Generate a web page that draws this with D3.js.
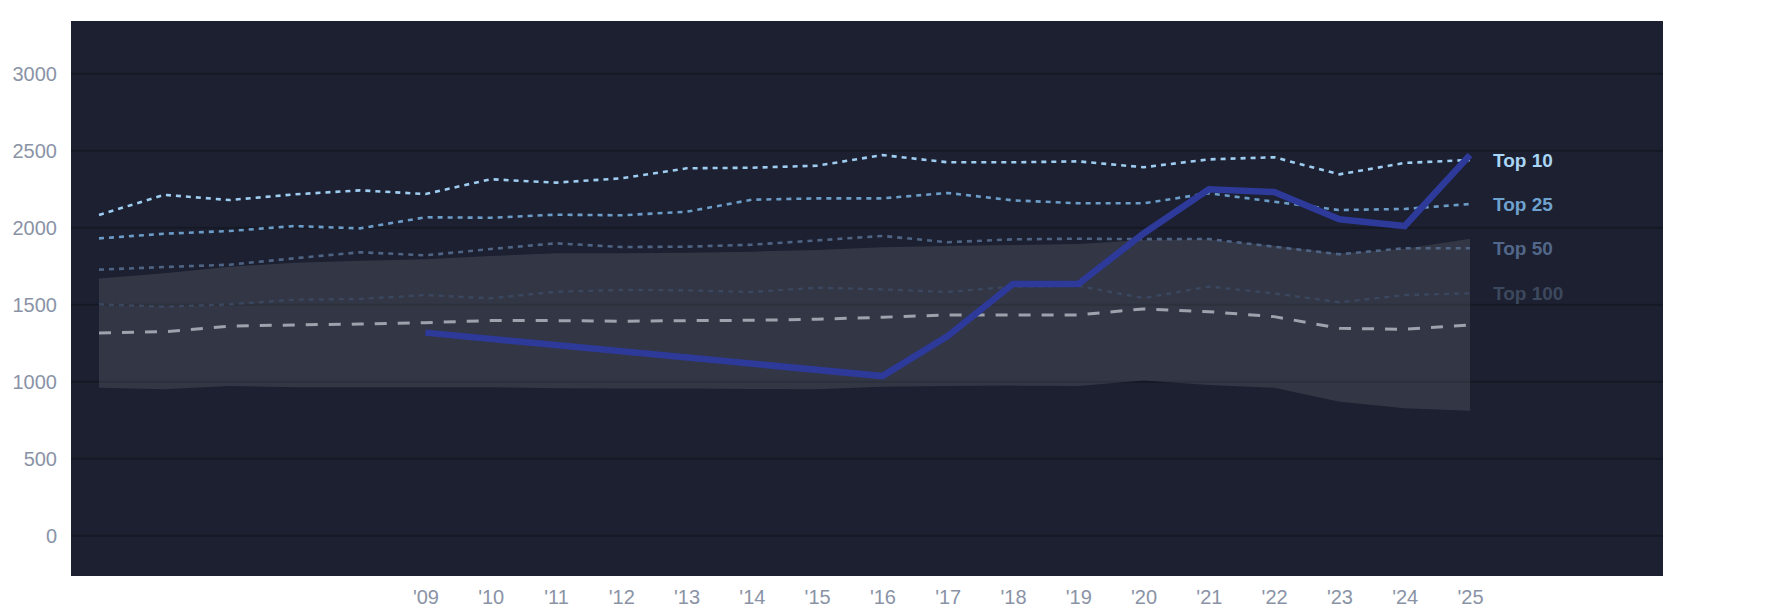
<!DOCTYPE html>
<html>
<head>
<meta charset="utf-8">
<script src="https://cdn.jsdelivr.net/npm/d3@7"></script>
<style>
  html, body { margin: 0; padding: 0; background: #ffffff; }
  svg { display: block; font-family: "Liberation Sans", Arial, Helvetica, sans-serif; }
</style>
</head>
<body>
<svg id="chart" width="1785" height="614"></svg>
<script>
// ---- data ----
const years = [2004,2005,2006,2007,2008,2009,2010,2011,2012,2013,2014,2015,2016,2017,2018,2019,2020,2021,2022,2023,2024,2025];
const tickYears = [2009,2010,2011,2012,2013,2014,2015,2016,2017,2018,2019,2020,2021,2022,2023,2024,2025];
const tickLabels = ["'09","'10","'11","'12","'13","'14","'15","'16","'17","'18","'19","'20","'21","'22","'23","'24","'25"];
const yTicks = [0, 500, 1000, 1500, 2000, 2500, 3000];

const top10  = [2080,2211,2177,2214,2240,2216,2312,2290,2318,2383,2387,2400,2469,2422,2422,2428,2390,2441,2455,2344,2418,2437];
const top25  = [1928,1958,1976,2008,1993,2065,2062,2082,2078,2101,2179,2188,2188,2223,2175,2156,2156,2221,2166,2112,2119,2151];
const top50  = [1725,1742,1757,1799,1838,1818,1859,1896,1872,1874,1887,1915,1944,1903,1922,1926,1923,1924,1874,1825,1864,1864];
const top100 = [1500,1484,1500,1530,1535,1560,1539,1582,1593,1591,1580,1608,1597,1580,1615,1620,1540,1615,1571,1513,1560,1571];
const median = [1314,1322,1358,1366,1372,1381,1394,1394,1390,1394,1396,1403,1416,1431,1431,1431,1470,1452,1420,1344,1338,1366];
const bandHigh = [1667,1701,1744,1770,1783,1792,1814,1831,1831,1835,1842,1853,1870,1879,1885,1892,1918,1920,1880,1830,1860,1925];
const bandLow  = [958,948,969,962,961,961,961,955,953,953,950,948,965,969,972,969,1005,976,958,868,825,809];
const mainSeries = [null,null,null,null,null,1316,null,null,null,null,null,null,1034,1294,1632,1632,1960,2247,2229,2052,2008,2469];

const benchNames = ["Top 10","Top 25","Top 50","Top 100"];
const benchValues = [top10, top25, top50, top100];

// ---- layout ----
const svg = d3.select("#chart");
const plot = { left: 71, top: 21, right: 1663, bottom: 576 };

const x = d3.scalePoint().domain(years).range([99, 1470]);
const y = d3.scaleLinear().domain([0, 3000]).range([535.3, 73.3]);

// background
svg.append("rect")
  .attr("x", plot.left).attr("y", plot.top)
  .attr("width", plot.right - plot.left).attr("height", plot.bottom - plot.top)
  .attr("fill", "#1c2030");

// grid
const yAxis = d3.axisLeft(y).tickValues(yTicks).tickSize(0).tickPadding(0).tickFormat(d3.format("d"));
const gy = svg.append("g").attr("transform", `translate(${plot.left},0)`).call(yAxis);
gy.select(".domain").remove();
gy.selectAll(".tick line")
  .attr("x1", 0).attr("x2", plot.right - plot.left)
  .attr("stroke", "#151925").attr("stroke-width", 2);
gy.selectAll(".tick text")
  .attr("x", -14).attr("dy", "0.35em")
  .attr("fill", "#8a93a6").style("font-size", "20px")
  .style("font-family", "'Liberation Sans', Arial, sans-serif");

// x axis
const xAxis = d3.axisBottom(x).tickValues(tickYears).tickSize(0)
  .tickFormat((d) => tickLabels[tickYears.indexOf(d)]);
const gx = svg.append("g").attr("transform", `translate(0,${plot.bottom})`).call(xAxis);
gx.select(".domain").remove();
gx.selectAll(".tick text")
  .attr("y", 21).attr("dy", "0.35em")
  .attr("fill", "#8a93a6").style("font-size", "20px")
  .style("font-family", "'Liberation Sans', Arial, sans-serif");

// band area
const bandData = years.map((yr, i) => ({ yr, lo: bandLow[i], hi: bandHigh[i] }));
svg.append("path")
  .datum(bandData)
  .attr("fill", "#8a8f9c").attr("fill-opacity", 0.2)
  .attr("d", d3.area().x(d => x(d.yr)).y0(d => y(d.lo)).y1(d => y(d.hi)));

const line = d3.line().x(d => x(d.yr)).y(d => y(d.v));
const toPts = (arr) => years.map((yr, i) => ({ yr, v: arr[i] })).filter(d => d.v !== null);

// benchmark lines (drawn bottom-up)
const benchStyles = [
  { color: "#9fcdf2", width: 2.6, dash: "5,5", label: "#a9d6f6" },
  { color: "#6c9cc8", width: 2.6, dash: "5,5", label: "#6fa2cf" },
  { color: "#4f6484", width: 2.6, dash: "5,5", label: "#52678a" },
  { color: "#3a475e", width: 2.4, dash: "5,5", label: "#3c485d" }
];

// Top 100 first
svg.append("path").datum(toPts(top100))
  .attr("fill", "none").attr("stroke", benchStyles[3].color)
  .attr("stroke-width", benchStyles[3].width).attr("stroke-dasharray", benchStyles[3].dash)
  .attr("d", line);

// median dashed gray
svg.append("path").datum(toPts(median))
  .attr("fill", "none").attr("stroke", "#9ea2ac")
  .attr("stroke-width", 3).attr("stroke-dasharray", "12,11")
  .attr("d", line);

[2, 1, 0].forEach(k => {
  svg.append("path").datum(toPts(benchValues[k]))
    .attr("fill", "none").attr("stroke", benchStyles[k].color)
    .attr("stroke-width", benchStyles[k].width).attr("stroke-dasharray", benchStyles[k].dash)
    .attr("d", line);
});

// main series
svg.append("path").datum(toPts(mainSeries))
  .attr("fill", "none").attr("stroke", "#2e3a9a")
  .attr("stroke-width", 6.5).attr("stroke-linejoin", "miter")
  .attr("d", line);

// end labels
benchNames.forEach((name, k) => {
  const vals = benchValues[k];
  svg.append("text")
    .attr("x", x(years[years.length - 1]) + 23)
    .attr("y", y(vals[vals.length - 1]))
    .attr("dy", "0.35em")
    .attr("fill", benchStyles[k].label)
    .style("font-size", "19px").style("font-weight", "bold")
    .text(name);
});
</script>
</body>
</html>
